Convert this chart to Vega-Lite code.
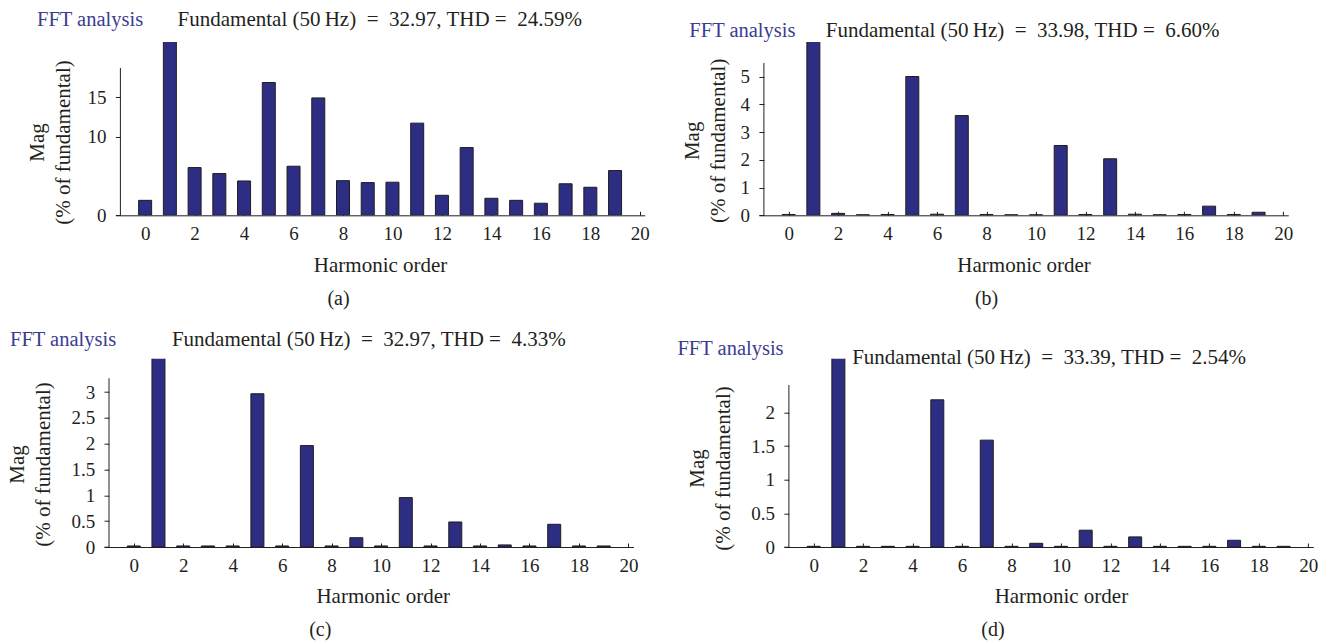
{
  "$schema": "https://vega.github.io/schema/vega-lite/v6.json",
  "padding": {"left": 6, "top": 9, "right": 0, "bottom": 0},
  "background": "white",
  "columns": 2,
  "spacing": {"row": 142.7, "column": 113.9},
  "bounds": "flush",
  "datasets": {
    "a": [
      {"h": 0, "mag": 1.9}, {"h": 1, "mag": 100}, {"h": 2, "mag": 6.06}, {"h": 3, "mag": 5.3}, {"h": 4, "mag": 4.36},
      {"h": 5, "mag": 16.86}, {"h": 6, "mag": 6.23}, {"h": 7, "mag": 14.9}, {"h": 8, "mag": 4.4}, {"h": 9, "mag": 4.15},
      {"h": 10, "mag": 4.2}, {"h": 11, "mag": 11.7}, {"h": 12, "mag": 2.54}, {"h": 13, "mag": 8.6}, {"h": 14, "mag": 2.16},
      {"h": 15, "mag": 1.9}, {"h": 16, "mag": 1.53}, {"h": 17, "mag": 4.0}, {"h": 18, "mag": 3.56}, {"h": 19, "mag": 5.68}
    ],
    "b": [
      {"h": 0, "mag": 0.03}, {"h": 1, "mag": 100}, {"h": 2, "mag": 0.07}, {"h": 3, "mag": 0.02}, {"h": 4, "mag": 0.03},
      {"h": 5, "mag": 5.01}, {"h": 6, "mag": 0.04}, {"h": 7, "mag": 3.6}, {"h": 8, "mag": 0.03}, {"h": 9, "mag": 0.02},
      {"h": 10, "mag": 0.02}, {"h": 11, "mag": 2.52}, {"h": 12, "mag": 0.03}, {"h": 13, "mag": 2.04}, {"h": 14, "mag": 0.04},
      {"h": 15, "mag": 0.02}, {"h": 16, "mag": 0.03}, {"h": 17, "mag": 0.33}, {"h": 18, "mag": 0.03}, {"h": 19, "mag": 0.11}
    ],
    "c": [
      {"h": 0, "mag": 0.02}, {"h": 1, "mag": 100}, {"h": 2, "mag": 0.02}, {"h": 3, "mag": 0.02}, {"h": 4, "mag": 0.02},
      {"h": 5, "mag": 2.97}, {"h": 6, "mag": 0.02}, {"h": 7, "mag": 1.965}, {"h": 8, "mag": 0.02}, {"h": 9, "mag": 0.18},
      {"h": 10, "mag": 0.02}, {"h": 11, "mag": 0.957}, {"h": 12, "mag": 0.02}, {"h": 13, "mag": 0.485}, {"h": 14, "mag": 0.02},
      {"h": 15, "mag": 0.04}, {"h": 16, "mag": 0.02}, {"h": 17, "mag": 0.44}, {"h": 18, "mag": 0.02}, {"h": 19, "mag": 0.02}
    ],
    "d": [
      {"h": 0, "mag": 0.01}, {"h": 1, "mag": 100}, {"h": 2, "mag": 0.01}, {"h": 3, "mag": 0.01}, {"h": 4, "mag": 0.01},
      {"h": 5, "mag": 2.19}, {"h": 6, "mag": 0.01}, {"h": 7, "mag": 1.59}, {"h": 8, "mag": 0.01}, {"h": 9, "mag": 0.055},
      {"h": 10, "mag": 0.01}, {"h": 11, "mag": 0.25}, {"h": 12, "mag": 0.01}, {"h": 13, "mag": 0.15}, {"h": 14, "mag": 0.01},
      {"h": 15, "mag": 0.01}, {"h": 16, "mag": 0.01}, {"h": 17, "mag": 0.1}, {"h": 18, "mag": 0.01}, {"h": 19, "mag": 0.01}
    ]
  },
  "concat": [
    {
      "width": 540.8, "height": 173.3,
      "layer": [
        {
          "data": {"name": "a"},
          "mark": {"type": "bar", "size": 13, "clip": true, "color": "#2d2e83", "stroke": "#1e1e1e", "strokeWidth": 1},
          "encoding": {
            "x": {"field": "h", "type": "quantitative", "scale": {"domain": [-1, 20], "range": [11.4, 540.8], "nice": false, "zero": false},
                  "axis": {"title": "Harmonic order", "values": [0, 2, 4, 6, 8, 10, 12, 14, 16, 18, 20], "tickCount": 30, "labelOverlap": false, "titleY": 56.6}},
            "y": {"field": "mag", "type": "quantitative", "scale": {"domain": [0, 22], "nice": false},
                  "axis": {"title": ["Mag", "(% of fundamental)"], "values": [0, 10, 15], "tickCount": 30, "format": "~g", "labelOverlap": false, "offset": -11.4, "titleX": -71.8, "titleY": 100}}
          }
        },
        {"data": {"values": [{}]}, "mark": {"type": "rule", "color": "#231f20", "strokeWidth": 1},
         "encoding": {"x": {"datum": -1}, "y": {"datum": 0}, "y2": {"datum": 18.7}}},
        {"data": {"values": [{"label": "FFT analysis"}]},
         "mark": {"type": "text", "align": "left", "baseline": "alphabetic", "font": "Liberation Serif", "fontSize": 20.5, "color": "#3b3d91"},
         "encoding": {"x": {"datum": -4.372}, "y": {"datum": 23.99}, "text": {"field": "label"}}},
        {"data": {"values": [{"label": "Fundamental (50\u2009Hz)\u00a0 =\u00a0 32.97, THD =\u00a0 24.59%"}]},
         "mark": {"type": "text", "align": "left", "baseline": "alphabetic", "font": "Liberation Serif", "fontSize": 21, "color": "#231f20"},
         "encoding": {"x": {"datum": 1.313}, "y": {"datum": 23.99}, "text": {"field": "label"}}},
        {"data": {"values": [{"label": "(a)"}]},
         "mark": {"type": "text", "align": "center", "baseline": "alphabetic", "font": "Liberation Serif", "fontSize": 20, "color": "#231f20"},
         "encoding": {"x": {"datum": 7.818}, "y": {"datum": -11.43}, "text": {"field": "label"}}}
      ]
    },
    {
      "width": 529.4, "height": 173.3,
      "layer": [
        {
          "data": {"name": "b"},
          "mark": {"type": "bar", "size": 13, "clip": true, "color": "#2d2e83", "stroke": "#1e1e1e", "strokeWidth": 1},
          "encoding": {
            "x": {"field": "h", "type": "quantitative", "scale": {"domain": [-1, 20], "nice": false, "zero": false},
                  "axis": {"title": "Harmonic order", "values": [0, 2, 4, 6, 8, 10, 12, 14, 16, 18, 20], "tickCount": 30, "labelOverlap": false, "titleY": 56.6}},
            "y": {"field": "mag", "type": "quantitative", "scale": {"domain": [0, 6.256], "nice": false},
                  "axis": {"title": ["Mag", "(% of fundamental)"], "values": [0, 1, 2, 3, 4, 5], "tickCount": 30, "format": "~g", "labelOverlap": false, "titleX": -60, "titleY": 98.3}}
          }
        },
        {"data": {"values": [{}]}, "mark": {"type": "rule", "color": "#231f20", "strokeWidth": 1},
         "encoding": {"x": {"datum": -1}, "y": {"datum": 0}, "y2": {"datum": 5.5}}},
        {"data": {"values": [{"label": "FFT analysis"}]},
         "mark": {"type": "text", "align": "left", "baseline": "alphabetic", "font": "Liberation Serif", "fontSize": 20.5, "color": "#3b3d91"},
         "encoding": {"x": {"datum": -4.015}, "y": {"datum": 6.426}, "text": {"field": "label"}}},
        {"data": {"values": [{"label": "Fundamental (50\u2009Hz)\u00a0 =\u00a0 33.98, THD =\u00a0 6.60%"}]},
         "mark": {"type": "text", "align": "left", "baseline": "alphabetic", "font": "Liberation Serif", "fontSize": 21, "color": "#231f20"},
         "encoding": {"x": {"datum": 1.499}, "y": {"datum": 6.426}, "text": {"field": "label"}}},
        {"data": {"values": [{"label": "(b)"}]},
         "mark": {"type": "text", "align": "center", "baseline": "alphabetic", "font": "Liberation Serif", "fontSize": 20, "color": "#231f20"},
         "encoding": {"x": {"datum": 8.004}, "y": {"datum": -3.249}, "text": {"field": "label"}}}
      ]
    },
    {
      "width": 529.4, "height": 188.3,
      "layer": [
        {
          "data": {"name": "c"},
          "mark": {"type": "bar", "size": 13, "clip": true, "color": "#2d2e83", "stroke": "#1e1e1e", "strokeWidth": 1},
          "encoding": {
            "x": {"field": "h", "type": "quantitative", "scale": {"domain": [-1, 20], "nice": false, "zero": false},
                  "axis": {"title": "Harmonic order", "values": [0, 2, 4, 6, 8, 10, 12, 14, 16, 18, 20], "tickCount": 30, "labelOverlap": false, "titleX": 278.7, "titleY": 55.6}},
            "y": {"field": "mag", "type": "quantitative", "scale": {"domain": [0, 3.649], "nice": false},
                  "axis": {"title": ["Mag", "(% of fundamental)"], "values": [0, 0.5, 1, 1.5, 2, 2.5, 3], "tickCount": 30, "format": "~g", "labelOverlap": false, "titleX": -80.3, "titleY": 105.3}}
          }
        },
        {"data": {"values": [{}]}, "mark": {"type": "rule", "color": "#231f20", "strokeWidth": 1},
         "encoding": {"x": {"datum": -1}, "y": {"datum": 0}, "y2": {"datum": 3.27}}},
        {"data": {"values": [{"label": "FFT analysis"}]},
         "mark": {"type": "text", "align": "left", "baseline": "alphabetic", "font": "Liberation Serif", "fontSize": 20.5, "color": "#3b3d91"},
         "encoding": {"x": {"datum": -5.002}, "y": {"datum": 3.895}, "text": {"field": "label"}}},
        {"data": {"values": [{"label": "Fundamental (50\u2009Hz)\u00a0 =\u00a0 32.97, THD =\u00a0 4.33%"}]},
         "mark": {"type": "text", "align": "left", "baseline": "alphabetic", "font": "Liberation Serif", "fontSize": 21, "color": "#231f20"},
         "encoding": {"x": {"datum": 1.543}, "y": {"datum": 3.895}, "text": {"field": "label"}}},
        {"data": {"values": [{"label": "(c)"}]},
         "mark": {"type": "text", "align": "center", "baseline": "alphabetic", "font": "Liberation Serif", "fontSize": 20, "color": "#231f20"},
         "encoding": {"x": {"datum": 7.54}, "y": {"datum": -1.725}, "text": {"field": "label"}}}
      ]
    },
    {
      "width": 554.4, "height": 188.3,
      "layer": [
        {
          "data": {"name": "d"},
          "mark": {"type": "bar", "size": 13, "clip": true, "color": "#2d2e83", "stroke": "#1e1e1e", "strokeWidth": 1},
          "encoding": {
            "x": {"field": "h", "type": "quantitative", "scale": {"domain": [-1, 20], "range": [25, 554.4], "nice": false, "zero": false},
                  "axis": {"title": "Harmonic order", "values": [0, 2, 4, 6, 8, 10, 12, 14, 16, 18, 20], "tickCount": 30, "labelOverlap": false, "titleX": 302, "titleY": 55.6}},
            "y": {"field": "mag", "type": "quantitative", "scale": {"domain": [0, 2.802], "nice": false},
                  "axis": {"title": ["Mag", "(% of fundamental)"], "values": [0, 0.5, 1, 1.5, 2], "tickCount": 30, "format": "~g", "labelOverlap": false, "offset": -25, "titleX": -80.6, "titleY": 109.3}}
          }
        },
        {"data": {"values": [{}]}, "mark": {"type": "rule", "color": "#231f20", "strokeWidth": 1},
         "encoding": {"x": {"datum": -1}, "y": {"datum": 0}, "y2": {"datum": 2.41}}},
        {"data": {"values": [{"label": "FFT analysis"}]},
         "mark": {"type": "text", "align": "left", "baseline": "alphabetic", "font": "Liberation Serif", "fontSize": 20.5, "color": "#3b3d91"},
         "encoding": {"x": {"datum": -5.506}, "y": {"datum": 2.857}, "text": {"field": "label"}}},
        {"data": {"values": [{"label": "Fundamental (50\u2009Hz)\u00a0 =\u00a0 33.39, THD =\u00a0 2.54%"}]},
         "mark": {"type": "text", "align": "left", "baseline": "alphabetic", "font": "Liberation Serif", "fontSize": 21, "color": "#231f20"},
         "encoding": {"x": {"datum": 1.559}, "y": {"datum": 2.729}, "text": {"field": "label"}}},
        {"data": {"values": [{"label": "(d)"}]},
         "mark": {"type": "text", "align": "center", "baseline": "alphabetic", "font": "Liberation Serif", "fontSize": 20, "color": "#231f20"},
         "encoding": {"x": {"datum": 7.251}, "y": {"datum": -1.324}, "text": {"field": "label"}}}
      ]
    }
  ],
  "config": {
    "view": {"stroke": null},
    "axis": {
      "grid": false,
      "labelFont": "Liberation Serif", "labelFontSize": 19, "labelColor": "#231f20",
      "titleFont": "Liberation Serif", "titleFontSize": 21, "titleColor": "#231f20", "titleFontWeight": "normal",
      "domainColor": "#231f20", "tickColor": "#231f20", "labelFlush": false, "labelOverlap": false
    },
    "axisX": {"tickSize": -4, "labelPadding": 13.5, "titleBaseline": "alphabetic", "labelAngle": 0},
    "axisY": {"domain": false, "tickSize": -5, "labelPadding": 14.3, "titleAngle": -90, "titleAlign": "center", "titleBaseline": "alphabetic", "titleLineHeight": 26}
  }
}
